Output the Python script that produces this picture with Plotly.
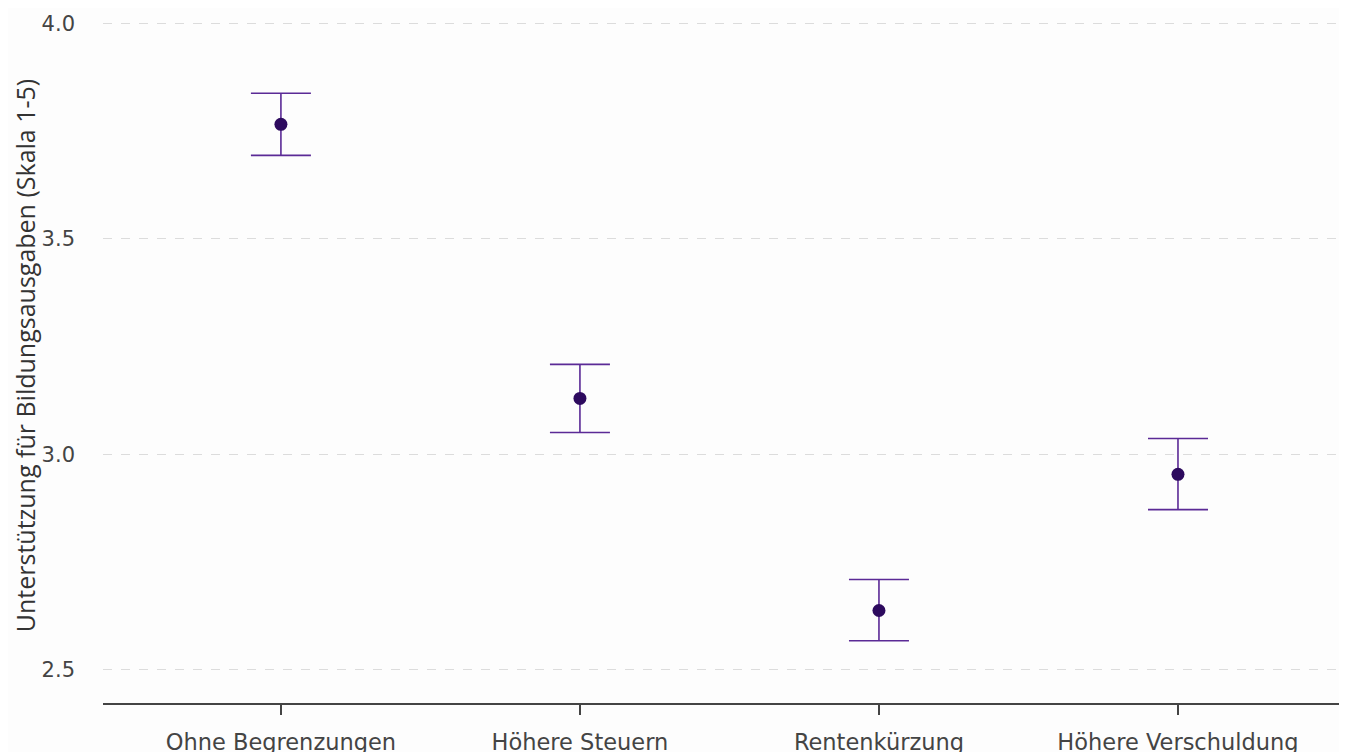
import plotly.graph_objects as go

categories = ["Ohne Begrenzungen", "Höhere Steuern", "Rentenkürzung", "Höhere Verschuldung"]
means = [3.766, 3.130, 2.638, 2.954]
upper = [3.838, 3.209, 2.710, 3.037]
lower = [3.694, 3.051, 2.568, 2.872]

err_plus = [u - m for u, m in zip(upper, means)]
err_minus = [m - l for m, l in zip(means, lower)]

fig = go.Figure()
fig.add_trace(go.Scatter(
    x=categories, y=means, mode="markers",
    marker=dict(color="#2d0a5e", size=13),
    error_y=dict(type="data", symmetric=False, array=err_plus, arrayminus=err_minus,
                 color="#5b2a96", thickness=1.6, width=30),
    showlegend=False,
))

fig.update_layout(
    width=1347, height=752,
    margin=dict(l=95, r=0, t=0, b=57),
    paper_bgcolor="#fdfdfd", plot_bgcolor="#fdfdfd",
    font=dict(family="DejaVu Sans", color="#444444"),
    xaxis=dict(
        range=[-0.595, 3.592], showgrid=False, showline=True, linecolor="#444444", linewidth=1.5,
        ticks="outside", ticklen=10, tickwidth=1.5, tickcolor="#444444", ticklabelstandoff=8,
        tickfont=dict(size=22.5, color="#444444"), zeroline=False,
    ),
    yaxis=dict(
        range=[2.4234, 4.0359], tickvals=[2.5, 3.0, 3.5, 4.0], ticktext=["2.5", "3.0", "3.5", "4.0"],
        showgrid=True, gridcolor="#dcdcdc", griddash="dash", gridwidth=1.2,
        showline=False, zeroline=False, ticks="", ticklabelstandoff=27,
        tickfont=dict(size=21, color="#444444"),
        title=dict(text="Unterstützung für Bildungsausgaben (Skala 1-5)",
                   font=dict(family="Open Sans", size=25, color="#333333"), standoff=3),
    ),
)

fig.write_html("out.html")
